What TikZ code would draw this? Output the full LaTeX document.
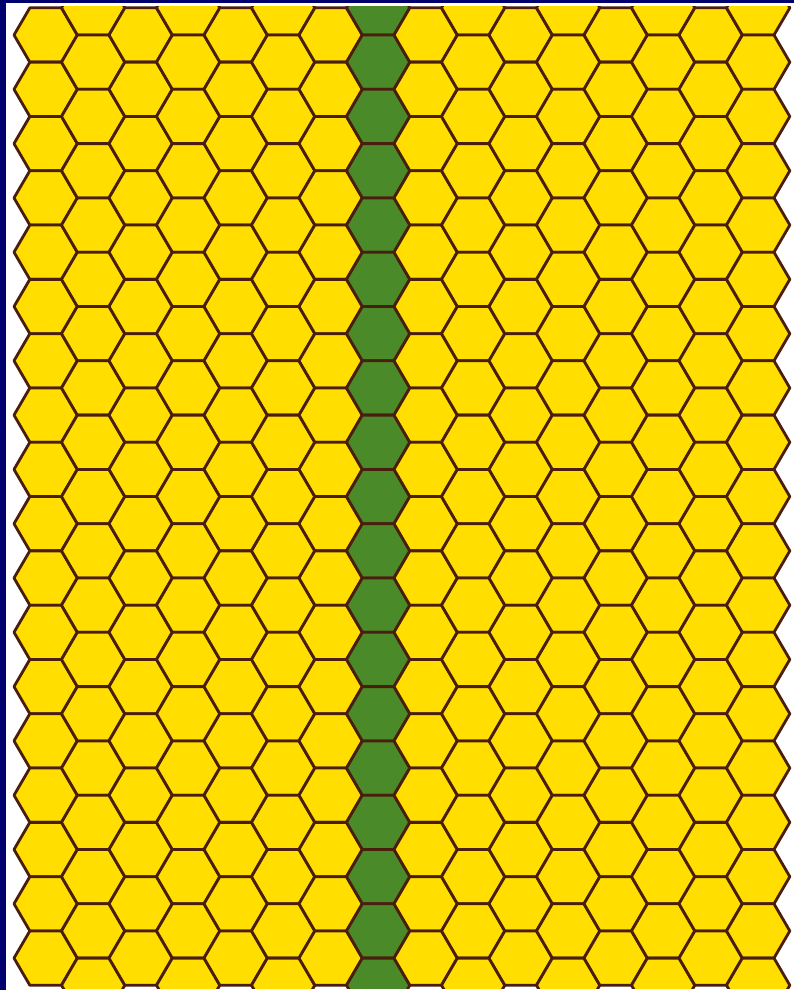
\documentclass[tikz,border=0pt]{standalone}
\usepackage{xcolor}
\definecolor{HexYellow}{HTML}{FFDE00}
\definecolor{HexGreen}{HTML}{4A8A28}
\definecolor{HexEdge}{HTML}{4A1E0E}
\definecolor{SlideBlue}{HTML}{00006E}

\begin{document}
\begin{tikzpicture}[x=1pt, y=-1pt,
    cell/.style={fill=HexYellow, draw=HexEdge, line width=2.8pt, line join=round},
    vein/.style={cell, fill=HexGreen},
  ]
  \useasboundingbox (0,0) rectangle (794,990);
  \fill[white] (0,0) rectangle (794,990);
  \fill[SlideBlue] (0,0) rectangle (5.5,990);
  \fill[SlideBlue] (0,0) rectangle (794,3.5);
  % honeycomb, column 7 is the green strip
  \begin{scope}
    \clip (5.5,7) rectangle (794,988);
    \foreach \c in {0,...,15} {
      \pgfmathsetmacro{\cx}{45.65+47.5*\c}
      \pgfmathsetmacro{\cy}{isodd(\c) ? 7.85 : 35}
      \pgfmathtruncatemacro{\nr}{isodd(\c) ? 18 : 17}
      \ifnum\c=7 \def\sty{vein}\else\def\sty{cell}\fi
      \foreach \r in {0,...,\nr} {
        \draw[\sty] (\cx-31.65,\cy+54.3*\r) -- ++(15.83,-27.15) -- ++(31.65,0)
          -- ++(15.83,27.15) -- ++(-15.83,27.15) -- ++(-31.65,0) -- cycle;
      }
    }
  \end{scope}
\end{tikzpicture}
\end{document}
